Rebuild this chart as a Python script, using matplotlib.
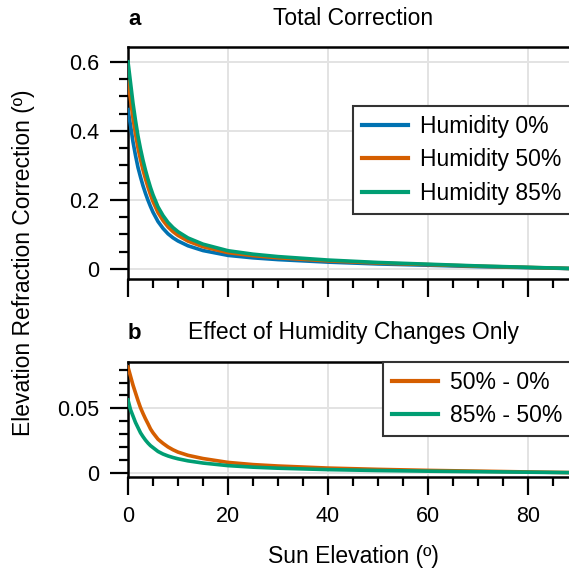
import numpy as np
import matplotlib
matplotlib.use('Agg')
import matplotlib.pyplot as plt
from matplotlib.ticker import MultipleLocator, FuncFormatter

plt.rcParams['font.family'] = ['Liberation Sans', 'DejaVu Sans']

# ==========================================
# DATA
# ==========================================
elevation = [0, 0.5, 1, 1.5, 2, 2.5, 3, 3.5, 4, 4.5, 5, 6, 7, 8, 9, 10,
             12, 15, 20, 25, 30, 40, 50, 60, 70, 80, 90]

# total refraction correction (deg) per humidity level
humidity_0 = [0.4615, 0.416, 0.368, 0.329, 0.294, 0.2665, 0.241, 0.2189, 0.199,
              0.181, 0.1645, 0.1375, 0.1177, 0.102, 0.0904, 0.0812,
              0.0673, 0.0535, 0.0395, 0.0324, 0.0273, 0.0200, 0.0147,
              0.0110, 0.0070, 0.0040, 0.001]
humidity_50 = [0.5435, 0.491, 0.436, 0.391, 0.350, 0.317, 0.287, 0.2607, 0.237,
               0.215, 0.1955, 0.1635, 0.1405, 0.122, 0.1082, 0.0972,
               0.0808, 0.0645, 0.0475, 0.0387, 0.0325, 0.0236, 0.0173,
               0.0128, 0.0082, 0.0046, 0.001]
humidity_85 = [0.600, 0.540, 0.480, 0.430, 0.385, 0.348, 0.315, 0.286, 0.260,
               0.236, 0.215, 0.180, 0.155, 0.135, 0.120, 0.108,
               0.090, 0.072, 0.053, 0.043, 0.036, 0.026, 0.019,
               0.014, 0.009, 0.005, 0.001]

series_a = [('Humidity 0%', humidity_0, '#0072B2'),
            ('Humidity 50%', humidity_50, '#D55E00'),
            ('Humidity 85%', humidity_85, '#009E73')]

diff_50_0 = np.array(humidity_50) - np.array(humidity_0)
diff_85_50 = np.array(humidity_85) - np.array(humidity_50)
series_b = [('50% - 0%', diff_50_0, '#D55E00'),
            ('85% - 50%', diff_85_50, '#009E73')]

W, H = 569, 570
fig = plt.figure(figsize=(W / 100, H / 100), dpi=100)


def px_axes(left, top, right, bottom):
    return fig.add_axes([left / W, 1 - bottom / H, (right - left) / W, (bottom - top) / H])


def style_axes(ax):
    for side in ['top', 'bottom', 'left', 'right']:
        ax.spines[side].set_linewidth(1.8)
    ax.tick_params(which='major', direction='out', length=13, width=1.6,
                   labelsize=15.5, pad=8)
    ax.tick_params(which='minor', direction='out', length=6.5, width=1.6)
    ax.tick_params(top=False, right=False, which='both')
    ax.grid(True, which='major', color='#e3e3e3', linewidth=1.4, zorder=0)
    ax.set_axisbelow(True)
    ax.xaxis.set_major_locator(MultipleLocator(20))
    ax.xaxis.set_minor_locator(MultipleLocator(5))
    ax.yaxis.set_major_formatter(FuncFormatter(lambda v, p: '%g' % round(v, 6)))


def add_legend(ax, left, top):
    leg = ax.legend(loc='upper left', bbox_to_anchor=(left / W, 1 - top / H),
                    bbox_transform=fig.transFigure, borderaxespad=0,
                    fontsize=16.5, handlelength=2.0, handletextpad=0.55,
                    labelspacing=0.45, fancybox=False, framealpha=1)
    leg.get_frame().set_edgecolor('#333333')
    leg.get_frame().set_linewidth(1.5)
    for line in leg.get_lines():
        line.set_linewidth(3)


# axes run on past the right edge, as in the cropped original
ax1 = px_axes(128, 47.3, 578, 278.7)
ax2 = px_axes(128, 361.7, 578, 476.7)

# --- panel a ---
for label, vals, col in series_a:
    ax1.plot(elevation, vals, color=col, linewidth=2.6, label=label, zorder=3)
style_axes(ax1)
ax1.set_xlim(0, 90)
ax1.set_ylim(-0.028, 0.642)
ax1.yaxis.set_major_locator(MultipleLocator(0.2))
ax1.yaxis.set_minor_locator(MultipleLocator(0.05))
ax1.tick_params(labelbottom=False)
ax1.set_title('Total Correction', fontsize=16.5, pad=16)
ax1.set_title('a', loc='left', fontsize=16, fontweight='bold', pad=16)
add_legend(ax1, 352.7, 106)

# --- panel b ---
for label, vals, col in series_b:
    ax2.plot(elevation, vals, color=col, linewidth=2.6, label=label, zorder=3)
style_axes(ax2)
ax2.set_xlim(0, 90)
ax2.set_ylim(-0.0031, 0.0862)
ax2.yaxis.set_major_locator(MultipleLocator(0.05))
ax2.yaxis.set_minor_locator(MultipleLocator(0.01))
ax2.set_title('Effect of Humidity Changes Only', fontsize=16.5, pad=16)
ax2.set_title('b', loc='left', fontsize=16, fontweight='bold', pad=16)
ax2.set_xlabel('Sun Elevation (\u00ba)', fontsize=16.5, labelpad=13)
add_legend(ax2, 382.7, 361.7)

fig.text(24 / W, 1 - 263 / H, 'Elevation Refraction Correction (\u00ba)',
         rotation=90, ha='center', va='center', fontsize=16.5)

fig.savefig('out.png', dpi=100)
